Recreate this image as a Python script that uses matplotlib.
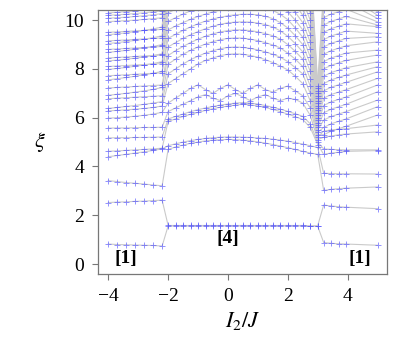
import matplotlib

matplotlib.use("Agg")

import matplotlib.pyplot as plt
import numpy as np

plt.rcParams["font.family"] = ["Liberation Serif", "DejaVu Serif"]
plt.rcParams["mathtext.fontset"] = "stix"

# x grids of the three phases ([1] | [4] | [1])
x_left = [-4.0, -3.7, -3.4, -3.1, -2.8, -2.5, -2.2]
x_mid = [-2.0, -1.75, -1.5, -1.25, -1.0, -0.75, -0.5, -0.25, 0.0, 0.25, 0.5,
         0.75, 1.0, 1.25, 1.5, 1.75, 2.0, 2.25, 2.5, 2.75, 3.0]
x_right = [3.2, 3.45, 3.7, 3.95, 5.0]

# entanglement levels xi, one row per level index
xi_left = [
    [0.82, 0.80, 0.79, 0.78, 0.77, 0.76, 0.74],
    [2.52, 2.54, 2.55, 2.57, 2.58, 2.60, 2.62],
    [3.42, 3.38, 3.34, 3.31, 3.28, 3.24, 3.21],
    [4.40, 4.45, 4.50, 4.55, 4.60, 4.66, 4.72],
    [4.62, 4.64, 4.66, 4.68, 4.70, 4.72, 4.75],
    [5.17, 5.18, 5.18, 5.19, 5.19, 5.20, 5.21],
    [5.57, 5.58, 5.58, 5.59, 5.60, 5.60, 5.61],
    [5.98, 6.00, 6.03, 6.06, 6.10, 6.15, 6.22],
    [6.28, 6.30, 6.32, 6.35, 6.38, 6.42, 6.48],
    [6.38, 6.42, 6.46, 6.50, 6.55, 6.60, 6.66],
    [6.78, 6.80, 6.82, 6.84, 6.86, 6.88, 6.90],
    [6.92, 6.96, 7.00, 7.05, 7.10, 7.16, 7.24],
    [7.22, 7.24, 7.26, 7.28, 7.30, 7.32, 7.34],
    [7.55, 7.60, 7.65, 7.70, 7.76, 7.82, 7.90],
    [7.72, 7.74, 7.76, 7.78, 7.80, 7.82, 7.84],
    [7.98, 8.02, 8.06, 8.11, 8.16, 8.22, 8.30],
    [8.10, 8.12, 8.14, 8.16, 8.18, 8.20, 8.22],
    [8.33, 8.36, 8.40, 8.44, 8.49, 8.55, 8.62],
    [8.45, 8.47, 8.49, 8.51, 8.53, 8.55, 8.57],
    [8.68, 8.72, 8.76, 8.81, 8.86, 8.92, 9.00],
    [8.80, 8.82, 8.84, 8.86, 8.88, 8.90, 8.92],
    [9.04, 9.08, 9.12, 9.17, 9.22, 9.28, 9.36],
    [9.15, 9.17, 9.19, 9.21, 9.23, 9.25, 9.27],
    [9.40, 9.44, 9.48, 9.53, 9.58, 9.64, 9.72],
    [9.50, 9.52, 9.54, 9.56, 9.58, 9.60, 9.62],
    [9.94, 9.96, 9.98, 10.00, 10.03, 10.06, 10.10],
    [10.08, 10.10, 10.12, 10.15, 10.18, 10.22, 10.27],
    [10.20, 10.22, 10.24, 10.27, 10.30, 10.34, 10.38],
    [10.30, 10.32, 10.35, 10.38, 10.42, 10.46, 10.50],
]

xi_mid = [
    [1.56, 1.56, 1.56, 1.56, 1.56, 1.56, 1.56, 1.56, 1.56, 1.56, 1.56, 1.56, 1.56, 1.56, 1.56, 1.56, 1.56, 1.56, 1.56, 1.55, 1.55],
    [1.58, 1.58, 1.58, 1.58, 1.58, 1.58, 1.58, 1.58, 1.58, 1.58, 1.58, 1.58, 1.58, 1.58, 1.58, 1.58, 1.58, 1.58, 1.58, 1.57, 1.57],
    [4.70, 4.80, 4.88, 4.95, 5.00, 5.05, 5.08, 5.10, 5.11, 5.10, 5.08, 5.05, 5.01, 4.96, 4.90, 4.84, 4.77, 4.70, 4.62, 4.55, 4.50],
    [4.85, 4.93, 5.00, 5.06, 5.11, 5.15, 5.18, 5.20, 5.21, 5.21, 5.20, 5.19, 5.17, 5.15, 5.12, 5.08, 5.04, 4.98, 4.92, 4.85, 4.78],
    [5.85, 5.95, 6.05, 6.14, 6.22, 6.30, 6.37, 6.43, 6.48, 6.52, 6.55, 6.53, 6.48, 6.42, 6.34, 6.25, 6.15, 6.04, 5.93, 5.60, 4.90],
    [5.95, 6.05, 6.15, 6.25, 6.33, 6.40, 6.46, 6.52, 6.56, 6.60, 6.62, 6.60, 6.56, 6.50, 6.43, 6.35, 6.26, 6.16, 6.06, 5.75, 5.00],
    [6.25, 6.40, 6.55, 6.70, 6.85, 6.95, 6.80, 6.70, 6.90, 7.00, 6.85, 6.70, 6.85, 6.95, 6.80, 6.70, 6.80, 6.75, 6.60, 6.10, 5.10],
    [6.60, 6.80, 7.00, 7.20, 7.35, 7.15, 7.00, 7.20, 7.35, 7.15, 7.00, 7.20, 7.35, 7.15, 7.05, 7.20, 7.30, 7.10, 6.90, 6.40, 5.20],
    [7.40, 7.60, 7.80, 8.00, 8.20, 8.35, 8.45, 8.55, 8.60, 8.62, 8.60, 8.55, 8.48, 8.38, 8.26, 8.12, 7.96, 7.70, 7.40, 6.70, 5.30],
    [7.80, 8.00, 8.20, 8.38, 8.52, 8.65, 8.75, 8.83, 8.88, 8.90, 8.88, 8.84, 8.78, 8.70, 8.60, 8.48, 8.30, 8.05, 7.80, 7.00, 5.40],
    [8.20, 8.40, 8.60, 8.76, 8.90, 9.02, 9.12, 9.20, 9.25, 9.27, 9.26, 9.22, 9.16, 9.08, 8.98, 8.86, 8.65, 8.40, 8.10, 7.30, 5.50],
    [8.55, 8.75, 8.92, 9.08, 9.22, 9.34, 9.44, 9.52, 9.57, 9.60, 9.60, 9.57, 9.52, 9.45, 9.36, 9.22, 9.00, 8.72, 8.40, 7.60, 5.60],
    [8.90, 9.08, 9.25, 9.40, 9.53, 9.65, 9.75, 9.83, 9.89, 9.92, 9.93, 9.92, 9.88, 9.82, 9.72, 9.56, 9.34, 9.04, 8.70, 7.90, 5.70],
    [9.25, 9.42, 9.58, 9.72, 9.85, 9.96, 10.05, 10.12, 10.18, 10.22, 10.24, 10.24, 10.22, 10.16, 10.06, 9.90, 9.68, 9.36, 9.00, 8.20, 5.80],
    [9.60, 9.76, 9.90, 10.03, 10.15, 10.25, 10.34, 10.42, 10.48, 10.52, 10.55, 10.56, 10.55, 10.50, 10.40, 10.24, 10.02, 9.68, 9.30, 8.50, 5.90],
    [9.95, 10.10, 10.25, 10.38, 10.50, 10.60, 10.68, 10.75, 10.80, 10.84, 10.86, 10.87, 10.86, 10.82, 10.72, 10.56, 10.34, 10.00, 9.60, 8.80, 6.00],
    [10.30, 10.45, 10.60, 10.72, 10.83, 10.92, 11.00, 11.06, 11.11, 11.14, 11.16, 11.17, 11.16, 11.12, 11.04, 10.88, 10.66, 10.32, 9.90, 9.10, 6.10],
    [10.65, 10.80, 10.95, 11.06, 11.16, 11.24, 11.31, 11.37, 11.41, 11.44, 11.46, 11.47, 11.46, 11.42, 11.34, 11.20, 10.98, 10.64, 10.20, 9.40, 6.20],
    [11.00, 11.15, 11.28, 11.40, 11.50, 11.58, 11.65, 11.70, 11.74, 11.77, 11.78, 11.79, 11.78, 11.74, 11.66, 11.52, 11.30, 10.96, 10.50, 9.70, 6.30],
    [11.35, 11.50, 11.62, 11.74, 11.84, 11.92, 11.98, 12.03, 12.07, 12.10, 12.11, 12.12, 12.11, 12.07, 11.98, 11.84, 11.62, 11.28, 10.80, 10.00, 6.40],
    [11.70, 11.85, 11.96, 12.08, 12.18, 12.26, 12.32, 12.36, 12.40, 12.42, 12.44, 12.45, 12.44, 12.40, 12.30, 12.16, 11.94, 11.60, 11.10, 10.30, 6.50],
    [12.05, 12.20, 12.30, 12.42, 12.52, 12.60, 12.66, 12.70, 12.74, 12.76, 12.78, 12.79, 12.78, 12.74, 12.64, 12.48, 12.26, 11.92, 11.40, 10.60, 6.60],
    [12.40, 12.55, 12.65, 12.76, 12.86, 12.94, 13.00, 13.04, 13.08, 13.10, 13.12, 13.13, 13.12, 13.08, 12.98, 12.80, 12.58, 12.24, 11.70, 10.90, 6.70],
    [12.75, 12.90, 13.00, 13.10, 13.20, 13.28, 13.34, 13.38, 13.42, 13.44, 13.46, 13.47, 13.46, 13.42, 13.32, 13.12, 12.90, 12.56, 12.00, 11.20, 6.80],
    [13.10, 13.25, 13.35, 13.44, 13.54, 13.62, 13.68, 13.72, 13.76, 13.78, 13.80, 13.81, 13.80, 13.76, 13.66, 13.44, 13.22, 12.88, 12.30, 11.50, 6.90],
    [13.45, 13.60, 13.70, 13.78, 13.88, 13.96, 14.02, 14.06, 14.10, 14.12, 14.14, 14.15, 14.14, 14.10, 14.00, 13.76, 13.54, 13.20, 12.60, 11.80, 7.00],
    [13.80, 13.95, 14.05, 14.12, 14.22, 14.30, 14.36, 14.40, 14.44, 14.46, 14.48, 14.49, 14.48, 14.44, 14.34, 14.08, 13.86, 13.52, 12.90, 12.10, 7.10],
    [14.15, 14.30, 14.40, 14.46, 14.56, 14.64, 14.70, 14.74, 14.78, 14.80, 14.82, 14.83, 14.82, 14.78, 14.68, 14.40, 14.18, 13.84, 13.20, 12.40, 7.20],
    [14.50, 14.65, 14.75, 14.80, 14.90, 14.98, 15.04, 15.08, 15.12, 15.14, 15.16, 15.17, 15.16, 15.12, 15.02, 14.72, 14.50, 14.16, 13.50, 12.70, 7.30],
]

xi_right = [
    [0.88, 0.85, 0.83, 0.82, 0.77],
    [2.42, 2.38, 2.35, 2.33, 2.27],
    [3.02, 3.06, 3.09, 3.11, 3.16],
    [3.72, 3.71, 3.70, 3.70, 3.69],
    [4.50, 4.55, 4.58, 4.62, 4.65],
    [4.72, 4.70, 4.69, 4.68, 4.68],
    [5.20, 5.25, 5.30, 5.33, 5.42],
    [5.45, 5.50, 5.52, 5.55, 5.70],
    [5.30, 5.45, 5.55, 5.65, 6.11],
    [5.60, 5.75, 5.85, 5.95, 6.45],
    [5.90, 6.05, 6.15, 6.25, 6.72],
    [6.20, 6.35, 6.45, 6.55, 7.06],
    [6.50, 6.65, 6.75, 6.85, 7.34],
    [6.80, 6.95, 7.05, 7.15, 7.61],
    [7.10, 7.25, 7.35, 7.45, 7.88],
    [7.40, 7.55, 7.65, 7.75, 8.09],
    [7.70, 7.85, 7.95, 8.05, 8.29],
    [8.00, 8.15, 8.25, 8.35, 8.57],
    [8.30, 8.45, 8.55, 8.65, 8.77],
    [8.60, 8.75, 8.85, 8.95, 9.11],
    [8.90, 9.05, 9.15, 9.25, 9.32],
    [9.20, 9.35, 9.45, 9.55, 9.46],
    [9.50, 9.65, 9.75, 9.85, 9.73],
    [9.80, 9.95, 10.05, 10.15, 9.80],
    [10.10, 10.25, 10.35, 10.45, 9.93],
    [10.40, 10.55, 10.65, 10.75, 10.07],
    [10.70, 10.85, 10.95, 11.05, 10.20],
    [11.00, 11.15, 11.25, 11.35, 10.34],
    [11.30, 11.45, 11.55, 11.65, 10.50],
]

x_all = np.array(x_left + x_mid + x_right)
levels = np.hstack([np.array(xi_left), np.array(xi_mid), np.array(xi_right)])

fig = plt.figure(figsize=(4.14, 3.62), dpi=100)
ax = fig.add_axes([0.237, 0.243, 0.698, 0.729])

for row in levels:
    ax.plot(x_all, row, color="#cacaca", lw=0.8, zorder=1)
for row in levels:
    ax.plot(x_all, row, ls="none", marker="+", ms=4.5, mew=0.7,
            color="#4a4aff", alpha=0.6, zorder=2)

ax.set_xlim(-4.34, 5.32)
ax.set_ylim(-0.41, 10.41)
ax.set_xticks([-4, -2, 0, 2, 4])
ax.set_yticks([0, 2, 4, 6, 8, 10])
ax.set_xticklabels(["\u22124", "\u22122", "0", "2", "4"])
ax.tick_params(direction="out", length=4, width=0.8, color="#777777",
               labelsize=14, pad=6)
for s in ax.spines.values():
    s.set_color("#777777")
    s.set_linewidth(0.9)

ax.set_xlabel(r"$I_2/J$", fontsize=16, labelpad=4)
ax.set_ylabel(r"$\xi$", fontsize=16, rotation=0, labelpad=18, va="center")

ax.text(-3.4, 0.22, "[1]", fontsize=14, fontweight="bold", ha="center", va="center")
ax.text(0.0, 1.05, "[4]", fontsize=14, fontweight="bold", ha="center", va="center")
ax.text(4.4, 0.22, "[1]", fontsize=14, fontweight="bold", ha="center", va="center")

fig.savefig("out.png", dpi=100)
